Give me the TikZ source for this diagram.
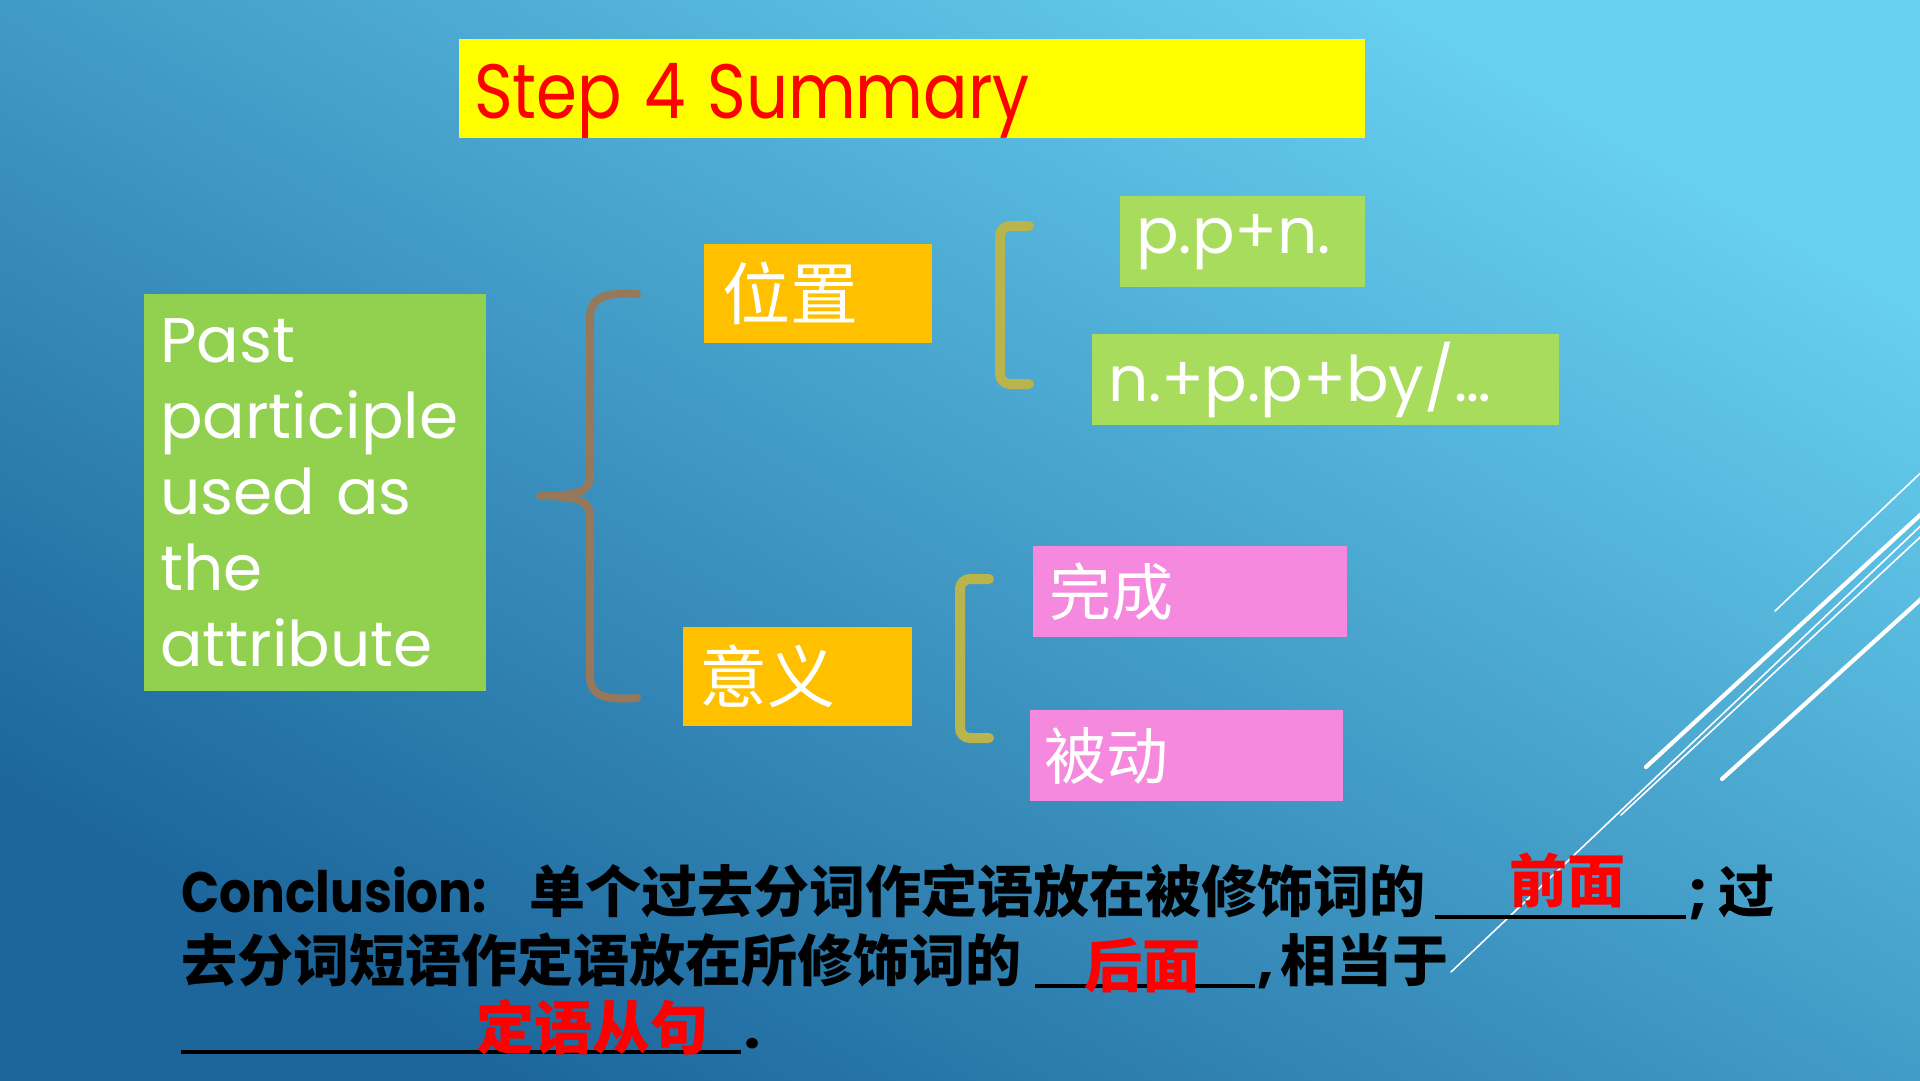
\documentclass[tikz,border=0pt]{standalone}
\usepackage{fontspec}
\setmainfont{Poppins}
\newfontfamily\cjk{Noto Sans CJK SC}
\definecolor{bgtop}{RGB}{104,208,240}
\definecolor{bgmid}{RGB}{62,155,205}
\definecolor{bgbot}{RGB}{28,102,156}
\definecolor{leftgreen}{RGB}{146,208,80}
\definecolor{rightgreen}{RGB}{168,220,92}
\definecolor{boxorange}{RGB}{255,192,0}
\definecolor{boxpink}{RGB}{245,137,222}
\definecolor{titleyellow}{RGB}{255,255,0}
\definecolor{bracebrown}{RGB}{150,120,90}
\definecolor{brkolive}{RGB}{185,180,75}
\newcommand\fsbig{\fontsize{63pt}{76pt}\selectfont}
\newcommand\fscjkbig{\cjk\fontsize{68pt}{72pt}\selectfont}
\newcommand\fscjkmid{\cjk\fontsize{62pt}{66pt}\selectfont}
\newcommand\fsconc{\bfseries\fontsize{57pt}{60pt}\selectfont}
\newcommand\fsconccjk{\cjk\bfseries\fontsize{56pt}{60pt}\selectfont}
\begin{document}
\begin{tikzpicture}[x=1pt,y=-1pt,
  box/.style={rectangle, anchor=north west, inner ysep=0pt, inner xsep=16pt, align=left, text=white},
  brace/.style={line width=8pt, line cap=round, line join=round, draw=bracebrown},
  bracket/.style={line width=10pt, line cap=round, rounded corners=10pt, draw=brkolive},
  thinline/.style={draw=white, line width=1.6pt, line cap=round},
  thickline/.style={draw=white, line width=4.2pt, line cap=round},
  blank/.style={draw=black, line width=3.5pt},
  conc/.style={anchor=base west, inner sep=0pt, text=black},
  answer/.style={inner sep=0pt, text=red, font=\cjk\bfseries\fontsize{58pt}{60pt}\selectfont}]
\useasboundingbox (0,0) rectangle (1920,1080);
\shade[top color=bgtop, middle color=bgmid, bottom color=bgbot, shading angle=-30] (0,0) rectangle (1920,1080);

% decorative lines
\begin{scope}
\clip (0,0) rectangle (1920,1080);
\draw[thinline] (1775,611) -- (1930,464);
\draw[thickline] (1646,767) -- (1930,506);
\draw[thinline] (1451,972) -- (1930,517);
\draw[thinline] (1621,815) -- (1930,528);
\draw[thickline] (1722,779) -- (1930,591);
\end{scope}

% title
\node[box, fill=titleyellow, text=red, minimum width=906pt, minimum height=99pt, text width=876pt, inner xsep=15pt, text depth=0pt, font=\fontsize{77pt}{78pt}\selectfont] (title) at (459,39) {\raisebox{-4pt}{\scalebox{0.855}[1]{Step 4 Summary}}};

% main boxes
\node[box, fill=leftgreen, minimum width=342pt, minimum height=397pt, text width=310pt, font=\fsbig] (pp) at (144,294) {Past\\participle\\used as\\the\\attribute};
\node[box, fill=boxorange, minimum width=228pt, minimum height=99pt, text width=192pt, inner xsep=18pt, font=\fscjkbig] (pos) at (704,244) {位置};
\node[box, fill=boxorange, minimum width=229pt, minimum height=99pt, text width=197pt, font=\fscjkbig] (mean) at (683,627) {意义};
\node[box, fill=rightgreen, minimum width=245pt, minimum height=91pt, text width=213pt, font=\fsbig] (ppn) at (1120,196) {p.p+n.};
\node[box, fill=rightgreen, minimum width=467pt, minimum height=91pt, text width=435pt, font=\fsbig] (npp) at (1092,334) {n.+p.p+by/…};
\node[box, fill=boxpink, minimum width=314pt, minimum height=91pt, text width=282pt, font=\fscjkmid] (done) at (1033,546) {完成};
\node[box, fill=boxpink, minimum width=313pt, minimum height=91pt, text width=285pt, inner xsep=14pt, font=\fscjkmid] (pass) at (1030,710) {被动};

% big brace
\draw[brace] (637,294) .. controls (606,292) and (590,297) .. (590,318)
  -- (590,476) .. controls (590,492) and (576,496) .. (540,496)
  .. controls (576,496) and (590,500) .. (590,516)
  -- (590,676) .. controls (590,697) and (606,700) .. (637,698);

% olive brackets
\draw[bracket] (1029,226) -- (1000,226) -- (1000,384) -- (1029,384);
\draw[bracket] (989,579) -- (960,579) -- (960,738) -- (989,738);

% conclusion
\node[conc, font=\fsconc] (c1a) at (181,912) {\scalebox{0.88}[1]{Conclusion:}};
\node[conc, font=\fsconccjk] (c1b) at (529,912) {单个过去分词作定语放在被修饰词的};
\draw[blank] (1435,917) -- (1686,917);
\node[conc, font=\fsconc] (c1c) at (1688,912) {;};
\node[conc, font=\fsconccjk] (c1d) at (1718,912) {过};
\node[answer] (a1) at (1567,880) {前面};

\node[conc, font=\fsconccjk] (c2a) at (181,981) {去分词短语作定语放在所修饰词的};
\draw[blank] (1035,986) -- (1255,986);
\node[conc, font=\fsconc] (c2b) at (1257,981) {,};
\node[conc, font=\fsconccjk] (c2c) at (1280,981) {相当于};
\node[answer] (a2) at (1142,966) {后面};

\draw[blank] (181,1052) -- (741,1052);
\node[conc, font=\fsconc] (c3a) at (744,1048) {.};
\node[answer] (a3) at (592,1027) {定语从句};
\end{tikzpicture}
\end{document}
